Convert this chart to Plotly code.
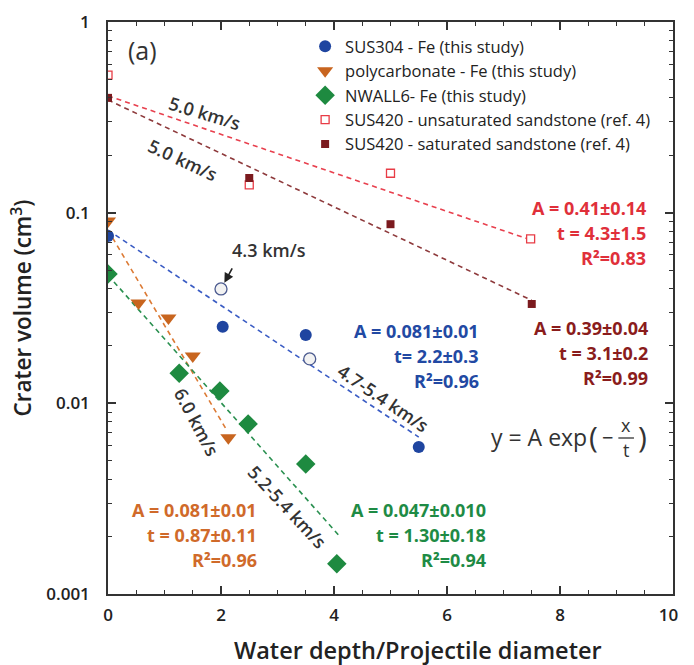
import numpy as np
import plotly.graph_objects as go

# ---------------- data ----------------
sus304_x = [0, 2.03, 3.5, 5.5]
sus304_y = [0.0755, 0.0252, 0.0228, 0.0059]
sus304_43_x = [2.0, 3.57]
sus304_43_y = [0.0398, 0.0171]
pc_x = [0, 0.54, 1.07, 1.5, 2.13]
pc_y = [0.0905, 0.0336, 0.028, 0.0177, 0.0066]
nw_x = [0, 1.26, 1.98, 2.48, 3.5, 4.05]
nw_y = [0.0477, 0.0144, 0.0116, 0.0078, 0.0048, 0.00144]
uns_x = [0, 2.5, 5.0, 7.48]
uns_y = [0.527, 0.14, 0.161, 0.0728]
sat_x = [0, 2.5, 5.0, 7.5]
sat_y = [0.40, 0.152, 0.087, 0.0332]

# exponential fits y = A exp(-x/t): (A, t, x_end)
fit_uns = (0.41, 4.3, 7.5)
fit_sat = (0.39, 3.1, 7.5)
fit_sus = (0.081, 2.2, 5.5)
fit_pc = (0.081, 0.87, 2.1)
fit_nw = (0.047, 1.30, 4.1)

# fit result labels
lab_uns = ["A = 0.41±0.14", "t = 4.3±1.5", "R²=0.83"]
lab_sat = ["A = 0.39±0.04", "t = 3.1±0.2", "R²=0.99"]
lab_sus = ["A = 0.081±0.01", "t= 2.2±0.3", "R²=0.96"]
lab_pc = ["A = 0.081±0.01", "t = 0.87±0.11", "R²=0.96"]
lab_nw = ["A = 0.047±0.010", "t = 1.30±0.18", "R²=0.94"]

x_ticks = [0, 2, 4, 6, 8, 10]
x_ticktext = ["0", "2", "4", "6", "8", "10&nbsp;&nbsp;"]
y_ticks = [0.001, 0.01, 0.1, 1]
y_ticktext = ["0.001", "0.01", "0.1", "1"]

FONT = "'Open Sans', Lato, sans-serif"
DARK = "#333333"

C_BLUE = "#1f45a0"
C_ORANGE = "#c8651f"
C_GREEN = "#1e8a40"
C_RED = "#e83c46"
C_DRED = "#7b1a1e"

fig = go.Figure()


def fit_line(p, color, dash):
    A, t, xe = p
    xs = np.array([0.0, xe])
    ys = A * np.exp(-xs / t)
    fig.add_trace(go.Scatter(x=xs, y=ys, mode="lines", showlegend=False,
                             line=dict(color=color, width=1.6, dash=dash),
                             hoverinfo="skip"))


fit_line(fit_uns, "#e8404e", "5px,4px")
fit_line(fit_sat, "#8e3a3c", "5px,4px")
fit_line(fit_sus, "#3a5cc4", "5px,4px")
fit_line(fit_pc, "#dc7a34", "5px,4px")
fit_line(fit_nw, "#2a9050", "5px,4px")

fig.add_trace(go.Scatter(x=sus304_x, y=sus304_y, mode="markers", name="SUS304 - Fe (this study)",
                         marker=dict(symbol="circle", size=12, color=C_BLUE)))
fig.add_trace(go.Scatter(x=pc_x, y=pc_y, mode="markers", name="polycarbonate - Fe (this study)",
                         marker=dict(symbol="triangle-down", size=14, color=C_ORANGE)))
fig.add_trace(go.Scatter(x=nw_x, y=nw_y, mode="markers", name="NWALL6- Fe (this study)",
                         marker=dict(symbol="diamond", size=15, color=C_GREEN)))
fig.add_trace(go.Scatter(x=uns_x, y=uns_y, mode="markers", name="SUS420 - unsaturated sandstone (ref. 4)",
                         marker=dict(symbol="square", size=8, color="white",
                                     line=dict(color=C_RED, width=1.3))))
fig.add_trace(go.Scatter(x=sat_x, y=sat_y, mode="markers", name="SUS420 - saturated sandstone (ref. 4)",
                         marker=dict(symbol="square", size=8, color=C_DRED)))
fig.add_trace(go.Scatter(x=sus304_43_x, y=sus304_43_y, mode="markers", showlegend=False,
                         marker=dict(symbol="circle", size=12, color="#f2f2f2",
                                     line=dict(color="#4b5a8f", width=1.3))))

# plot area in pixels
L, R, T, B = 108, 687, 22, 594
W, H = 694, 665


def P(xp, yp):
    return (xp - L) / (R - L), (B - yp) / (B - T)


annos = []


def txt(text, xp, yp, size=17, color=DARK, angle=0, weight=600, xanchor="center",
        align="center", yanchor="middle"):
    x, y = P(xp, yp)
    annos.append(dict(text=text, x=x, y=y, xref="paper", yref="paper", showarrow=False,
                      textangle=angle, xanchor=xanchor, yanchor=yanchor, align=align,
                      font=dict(family=FONT, size=size, color=color, weight=weight)))


def block(lines, xr, yc, color, gap=24.6):
    for i, s in enumerate(lines):
        txt(s, xr, yc + (i - 1) * gap, size=18, weight=700, color=color,
            xanchor="right", align="right")


txt("(a)", 143, 50, size=25, weight="normal")
txt("5.0 km/s", 207, 113, size=18, angle=17)
txt("5.0 km/s", 185, 160, size=18, angle=25)
txt("4.3 km/s", 273, 250, size=18)
txt("4.7-5.4 km/s", 390, 398, size=18, angle=34)
txt("6.0 km/s", 199, 422, size=18, angle=62)
txt("5.2-5.4 km/s", 292, 507, size=18, angle=47)

block(lab_uns, 661, 233, "#e0303a")
block(lab_sat, 663, 353, "#8a1c1c")
block(lab_sus, 490, 356, "#2249a3")
block(lab_pc, 263, 535, "#d06a2a")
block(lab_nw, 497, 535, "#1e8b45")

# formula y = A exp(-x/t)
txt("y = A exp", 601, 437, size=23, weight="normal", xanchor="right")
txt("(", 606, 436, size=30, weight="normal")
txt("−", 620, 437, size=20, weight="normal")
txt("x", 639, 425, size=18, weight="normal")
txt("t", 639, 450, size=18, weight="normal")
txt(")", 656, 436, size=30, weight="normal")

# x-axis title (sits right of the axis centre in the original)
txt("Water depth/Projectile diameter", 426, 650, size=23.5, color="#222222")

# arrow to the 4.3 km/s point
annos.append(dict(x=sus304_43_x[0], y=np.log10(sus304_43_y[0]), xref="x", yref="y",
                  text="", showarrow=True, ax=12, ay=-22, axref="pixel", ayref="pixel",
                  arrowhead=2, arrowsize=1.2, arrowwidth=1.6, arrowcolor="#222222", standoff=7))

shapes = []
x0, y0 = P(631, 438)
x1, _ = P(647, 438)
shapes.append(dict(type="line", xref="paper", yref="paper", x0=x0, x1=x1, y0=y0, y1=y0,
                   line=dict(color=DARK, width=1.3)))

minor_y = [m * 10.0 ** e for e in range(-3, 0) for m in range(2, 10)]

axis_common = dict(showline=True, linecolor=DARK, linewidth=1.5, mirror="allticks",
                   ticks="inside", ticklen=8, tickwidth=1.5, tickcolor=DARK,
                   showgrid=False, zeroline=False, ticklabeloverflow="allow",
                   tickfont=dict(family=FONT, size=17, color="#222222", weight=600))

lx, ly = P(310, 29)

fig.update_layout(
    width=W, height=H,
    margin=dict(l=L, r=W - R, t=T, b=H - B),
    paper_bgcolor="white", plot_bgcolor="white",
    font=dict(family=FONT, color=DARK),
    xaxis=dict(range=[0, 10], tickvals=x_ticks, ticktext=x_ticktext, ticklabelstandoff=5,
               minor=dict(dtick=0.5, ticks="inside", ticklen=4, tickwidth=1.3, tickcolor=DARK),
               **axis_common),
    yaxis=dict(type="log", range=[-3, 0], tickvals=y_ticks, ticktext=y_ticktext,
               ticklabelstandoff=13,
               minor=dict(tickvals=minor_y, ticks="inside", ticklen=4, tickwidth=1.3, tickcolor=DARK),
               title=dict(text="Crater volume (cm<sup>3</sup>)", standoff=8,
                          font=dict(family=FONT, size=22.5, color="#222222", weight=600)),
               **axis_common),
    legend=dict(x=lx, y=ly, xanchor="left", yanchor="top", bgcolor="rgba(0,0,0,0)",
                font=dict(family=FONT, size=16.5, color="#222222")),
    annotations=annos,
    shapes=shapes,
)

fig.write_html("out.html", config={"displayModeBar": False},
               post_script="document.body.style.margin='0';document.body.style.overflow='hidden';")
